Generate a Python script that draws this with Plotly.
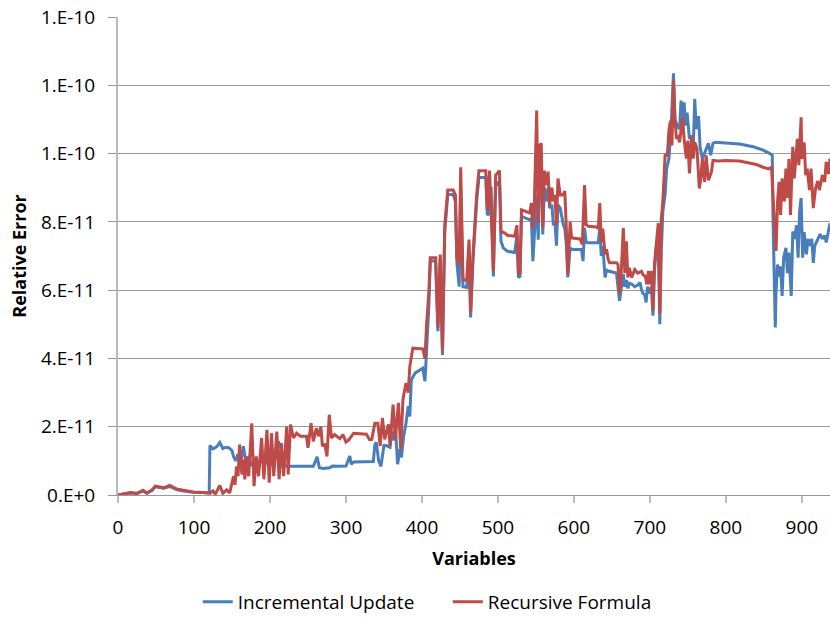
import plotly.graph_objs as go

# values, in units of 1e-11
inc_x = [0, 8, 16, 25, 33, 38, 45, 49, 53, 60, 68, 77, 86, 99, 112, 120,
         121, 125, 130, 134, 138, 142, 146, 150, 152, 155, 158, 161, 165, 168,
         172, 176, 180, 185, 190, 195, 200, 204, 208, 211, 214, 217, 222, 226,
         235, 245, 257, 260, 262, 265, 270, 279, 282, 290, 300, 305, 307, 310,
         320, 330, 336, 338, 340, 343, 346, 350, 354, 358, 360, 363, 365, 368,
         371, 373, 376, 379, 382, 384, 386, 391, 397, 401, 404, 406, 409, 411,
         418, 421, 424, 427, 430, 434, 441, 444, 446, 449, 451, 454, 459, 462,
         464, 467, 472, 475, 484, 486, 489, 491, 494, 497, 502, 504, 507, 512,
         522, 525, 527, 529, 531, 542, 544, 546, 548, 551, 553, 555, 557, 559,
         561, 564, 566, 568, 571, 573, 575, 577, 579, 582, 586, 588, 590, 592,
         595, 597, 610, 612, 614, 616, 619, 632, 634, 636, 638, 641, 643, 645,
         656, 658, 660, 662, 665, 667, 669, 671, 673, 676, 680, 684, 687, 689,
         691, 693, 695, 697, 700, 702, 704, 706, 709, 711, 713, 715, 717, 720,
         722, 725, 728, 731, 733, 736, 739, 741, 743, 745, 747, 749, 752, 755,
         757, 759, 761, 764, 766, 769, 772, 777, 780, 783, 786, 800, 818, 836,
         849, 858, 861, 862, 864, 865, 866, 868, 870, 872, 874, 876, 879, 881,
         883, 886, 888, 890, 893, 895, 897, 899, 901, 903, 906, 908, 910, 913,
         915, 917, 919, 921, 924, 927, 930, 932, 935, 937]
inc_v = [0.0, 0.02, 0.06, 0.04, 0.12, 0.05, 0.14, 0.24, 0.22, 0.2, 0.25, 0.16,
         0.12, 0.08, 0.07, 0.06,
         1.45, 1.35, 1.42, 1.54, 1.36, 1.4, 1.38, 1.3, 1.13, 1.0, 1.2, 0.9,
         1.43, 1.0, 1.1, 0.85, 1.0, 0.8, 1.1, 0.9, 1.2, 0.85, 1.3, 1.57, 1.4,
         0.9, 0.84, 0.84, 0.82, 0.83, 0.84, 1.0, 1.12, 0.8, 0.78, 0.8, 0.85,
         0.84, 0.85, 1.14, 0.9, 0.97, 0.97, 0.98, 0.98, 1.47, 1.54, 1.0, 0.84,
         1.45, 1.44, 1.4, 1.86, 1.6, 2.0, 0.9, 1.34, 1.1, 1.73, 2.1, 2.6, 2.3,
         3.37, 3.57, 3.66, 3.71, 3.33, 4.15, 5.5, 6.85, 6.85, 4.8, 6.9, 4.1,
         7.7, 8.8, 8.8, 8.6, 6.8, 6.1, 9.0, 6.1, 6.08, 7.3, 5.2, 6.8, 8.6, 9.3,
         9.3, 8.2, 8.26, 9.03, 6.4, 9.03, 9.2, 7.43, 7.24, 7.14, 7.1, 7.6,
         6.37, 6.4, 8.16, 8.06, 8.1, 6.85, 7.8, 8.8, 7.48, 9.8, 9.6, 7.63, 9.0,
         8.6, 9.0, 8.4, 8.5, 7.9, 8.0, 7.3, 8.5, 8.4, 7.92, 7.8, 7.34, 6.37,
         7.24, 7.19, 7.19, 6.85, 7.82, 7.4, 7.39, 7.39, 7.8, 7.0, 7.3, 6.37,
         6.6, 6.56, 6.5, 5.98, 5.69, 6.0, 6.47, 6.1, 6.3, 6.05, 6.2, 6.18, 6.1,
         6.15, 6.22, 6.0, 5.9, 5.88, 5.64, 6.1, 5.9, 6.1, 5.25, 6.56, 7.4, 7.5,
         5.0, 7.14, 8.3, 8.8, 9.56, 9.85, 10.8, 12.35, 11.0, 10.8, 10.72, 11.55,
         11.06, 11.5, 10.82, 11.2, 10.43, 10.53, 10.14, 11.6, 10.72, 11.1,
         10.2, 9.85, 10.04, 10.3, 9.95, 10.3, 10.33, 10.3, 10.28, 10.2, 10.1,
         10.0, 9.95, 8.1, 5.4, 4.91, 5.98, 6.75, 6.4, 6.7, 5.83, 6.95, 7.24,
         6.5, 7.1, 5.83, 7.72, 7.5, 7.9, 6.95, 8.3, 8.7, 6.95, 7.7, 7.05, 7.5,
         7.3, 7.5, 6.8, 7.3, 7.4, 7.5, 7.64, 7.5, 7.6, 7.4, 7.8, 7.96]

rec_x = [0, 8, 16, 25, 33, 38, 45, 49, 53, 60, 68, 77, 86, 99, 112, 121,
         125, 128, 134, 138, 143, 147, 149, 152, 154, 156, 158, 160, 163, 165,
         167, 169, 172, 176, 179, 182, 185, 189, 192, 196, 199, 202, 205, 209,
         212, 215, 218, 222, 224, 227, 231, 235, 240, 248, 250, 254, 257, 261,
         264, 267, 269, 272, 275, 278, 281, 285, 292, 296, 300, 304, 310, 327,
         331, 334, 338, 342, 345, 348, 351, 356, 358, 362, 365, 369, 372, 375,
         379, 382, 384, 388, 401, 404, 406, 409, 411, 418, 421, 424, 427, 430,
         434, 441, 444, 446, 449, 451, 454, 459, 462, 464, 467, 472, 475, 484,
         486, 489, 494, 497, 502, 504, 509, 513, 522, 525, 527, 529, 531, 542,
         544, 546, 548, 551, 553, 555, 557, 559, 561, 564, 566, 568, 571, 573,
         575, 577, 579, 582, 586, 588, 590, 592, 595, 597, 608, 611, 614, 616,
         619, 630, 632, 634, 636, 638, 641, 643, 645, 647, 656, 658, 660, 662,
         665, 667, 669, 671, 673, 676, 680, 684, 689, 691, 694, 696, 698, 700,
         702, 704, 706, 709, 711, 713, 715, 717, 720, 723, 725, 727, 729, 731,
         733, 735, 737, 739, 743, 745, 748, 750, 752, 755, 757, 759, 762, 765,
         767, 769, 772, 774, 777, 781, 783, 790, 800, 818, 830, 840, 849, 856,
         860, 862, 864, 866, 868, 870, 872, 874, 877, 879, 881, 883, 885, 888,
         890, 892, 894, 896, 899, 900, 903, 905, 907, 910, 912, 915, 918, 921,
         923, 927, 930, 932, 935, 937]
rec_v = [0.0, 0.03, 0.07, 0.05, 0.14, 0.06, 0.15, 0.26, 0.24, 0.21, 0.28, 0.18,
         0.14, 0.09, 0.07, 0.05,
         0.12, 0.02, 0.28, 0.05, 0.15, 0.06, 0.26, 0.55, 0.3, 0.84, 0.55, 1.48,
         0.6, 1.04, 0.46, 1.13, 0.55, 2.1, 0.26, 1.13, 0.55, 1.67, 0.46, 1.91,
         0.36, 1.81, 0.55, 1.86, 0.46, 1.52, 0.55, 2.0, 0.6, 2.06, 1.67, 1.81,
         1.72, 1.72, 1.38, 2.1, 1.57, 1.96, 1.72, 2.0, 1.43, 1.5, 1.13, 2.35,
         1.67, 1.77, 1.65, 1.77, 1.55, 1.62, 1.81, 1.78, 1.62, 1.63, 2.1, 2.1,
         1.44, 2.26, 1.63, 2.07, 1.44, 2.65, 1.63, 2.7, 1.34, 2.8, 3.28, 3.0,
         3.76, 4.3, 4.28, 4.0, 4.96, 5.9, 6.95, 6.95, 4.91, 7.04, 4.24, 7.9,
         8.93, 8.93, 8.8, 6.95, 6.75, 9.6, 6.3, 6.3, 7.48, 5.35, 6.95, 8.8, 9.5,
         9.5, 8.35, 9.5, 6.56, 9.37, 9.5, 7.72, 7.67, 7.6, 7.58, 7.9, 6.47,
         6.5, 8.35, 8.26, 8.55, 7.82, 8.6, 11.26, 8.0, 10.24, 10.3, 7.82, 9.5,
         9.08, 9.47, 8.5, 9.0, 8.6, 8.79, 7.9, 9.27, 8.79, 8.79, 8.9, 7.82,
         6.47, 8.0, 7.53, 7.5, 7.34, 9.08, 7.92, 7.87, 7.85, 7.8, 8.55, 7.4,
         7.8, 7.05, 7.2, 6.9, 6.8, 6.8, 6.75, 5.9, 6.4, 7.82, 6.5, 7.43, 6.37,
         6.65, 6.37, 6.6, 6.5, 6.55, 6.45, 6.4, 6.17, 6.56, 6.17, 6.56, 5.4,
         6.76, 7.43, 7.96, 5.3, 8.1, 8.6, 9.95, 9.95, 10.67, 10.96, 10.24,
         12.13, 10.96, 10.43, 10.53, 10.33, 11.06, 10.43, 9.85, 10.38, 9.42,
         10.53, 9.85, 10.33, 10.14, 8.98, 9.27, 9.85, 9.17, 9.95, 9.22, 9.46,
         9.8, 9.78, 9.8, 9.78, 9.72, 9.68, 9.6, 9.55, 9.6, 8.6, 7.93, 7.15, 8.6,
         9.17, 8.2, 9.27, 8.6, 9.56, 8.7, 9.85, 8.2, 10.2, 9.27, 9.85, 10.43,
         9.66, 11.06, 9.85, 10.33, 9.37, 9.56, 8.93, 9.56, 8.4, 8.98, 9.2, 8.93,
         9.37, 9.17, 9.76, 9.4, 9.85]

y_ticks = [0, 2e-11, 4e-11, 6e-11, 8e-11, 1e-10, 1.2e-10, 1.4e-10]
y_labels = ['0.E+0', '2.E-11', '4.E-11', '6.E-11', '8.E-11',
            '1.E-10', '1.E-10', '1.E-10']
x_ticks = [0, 100, 200, 300, 400, 500, 600, 700, 800, 900]

trace1 = go.Scatter(
    x=inc_x,
    y=[v * 1e-11 for v in inc_v],
    mode='lines',
    name='Incremental Update',
    line=dict(color='#4a7ebb', width=3),
)
trace2 = go.Scatter(
    x=rec_x,
    y=[v * 1e-11 for v in rec_v],
    mode='lines',
    name='Recursive Formula',
    line=dict(color='#be4b48', width=3),
)

font = 'Open Sans, Lato, sans-serif'

layout = go.Layout(
    width=830,
    height=621,
    margin=dict(l=118, r=0, t=17, b=116),
    paper_bgcolor='white',
    plot_bgcolor='white',
    font=dict(family=font, size=19, color='black'),
    xaxis=dict(
        range=[0, 937],
        tickvals=x_ticks,
        ticks='outside',
        ticklen=7,
        tickcolor='#bbbbbb',
        tickwidth=2,
        ticklabelstandoff=8,
        showgrid=False,
        showline=True,
        linecolor='#999999',
        linewidth=1,
        zeroline=False,
        automargin=False,
        title=dict(text='<b>Variables</b>', font=dict(size=18), standoff=13),
    ),
    yaxis=dict(
        range=[0, 1.4e-10],
        tickvals=y_ticks,
        ticktext=y_labels,
        ticks='outside',
        ticklen=8,
        tickcolor='#999999',
        ticklabelstandoff=9,
        showgrid=True,
        gridcolor='#999999',
        gridwidth=1,
        showline=True,
        linecolor='#bbbbbb',
        linewidth=2,
        zeroline=False,
        automargin=False,
        title=dict(text='<b>Relative Error</b>', font=dict(size=18), standoff=10),
    ),
    legend=dict(
        orientation='h',
        x=0.112,
        y=-0.224,
        xanchor='left',
        yanchor='middle',
        entrywidth=205,
        font=dict(size=19),
    ),
    showlegend=True,
)

fig = go.Figure(data=[trace1, trace2], layout=layout)
# page body has a default 8px margin; drop it so the figure sits at 0,0
fig.write_html(
    'out.html',
    config={'displayModeBar': False},
    post_script="document.body.style.margin='0';document.body.style.overflow='hidden';",
)
